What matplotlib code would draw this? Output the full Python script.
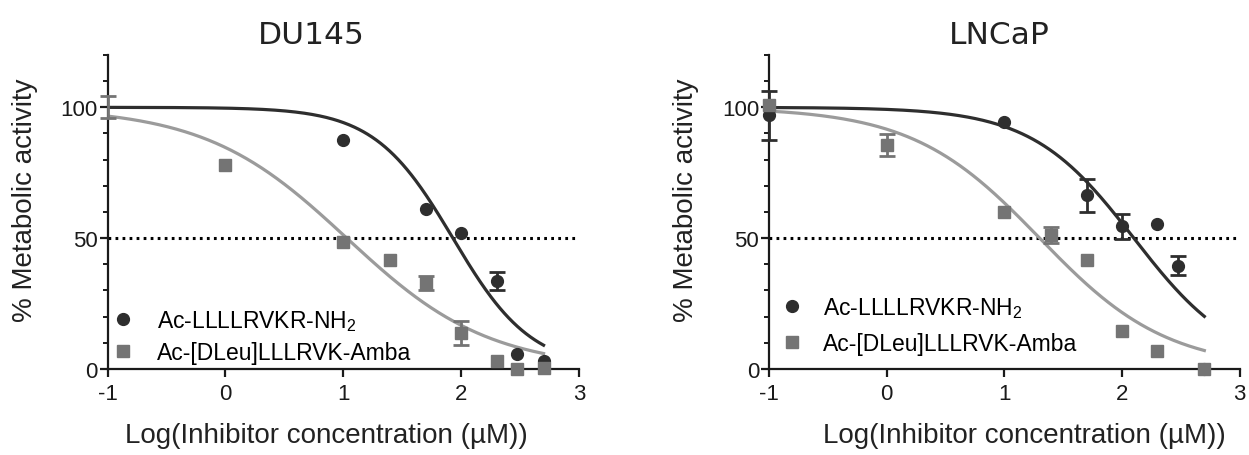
import numpy as np
import matplotlib
matplotlib.use("Agg")
import matplotlib.pyplot as plt
from matplotlib.lines import Line2D
from matplotlib.ticker import MultipleLocator

plt.rcParams['font.family'] = ['Liberation Sans', 'DejaVu Sans']
plt.rcParams['mathtext.fontset'] = 'custom'
plt.rcParams['mathtext.rm'] = 'Liberation Sans'
plt.rcParams['mathtext.default'] = 'regular'

# ---------------- data ----------------
titles = ["DU145", "LNCaP"]
series_names = ["Ac-LLLLRVKR-NH$_2$", "Ac-[DLeu]LLLRVK-Amba"]
x_label = "Log(Inhibitor concentration (\u00b5M))"
y_label = "% Metabolic activity"
x_ticks = [-1, 0, 1, 2, 3]
y_ticks = [0, 50, 100]

# DU145 - dark circles
du_dark_x = [1.0, 1.699, 2.0, 2.301, 2.477, 2.699]
du_dark_y = [87.6, 61.0, 52.1, 33.6, 5.9, 2.9]
du_dark_err = [0, 0, 0, 3.3, 0, 0]
du_dark_shown = [True, True, True, True, True, True]
# DU145 - grey squares
du_gray_x = [-1.0, 0.0, 1.0, 1.398, 1.699, 2.0, 2.301, 2.477, 2.699]
du_gray_y = [100.1, 78.0, 48.5, 41.6, 32.9, 13.8, 2.9, 0.0, 0.5]
du_gray_err = [4.2, 0, 0, 0, 2.8, 4.7, 0, 0, 0]
du_gray_shown = [False, True, True, True, True, True, True, True, True]

# LNCaP - dark circles
ln_dark_x = [-1.0, 1.0, 1.699, 2.0, 2.301, 2.477, 2.699]
ln_dark_y = [96.9, 94.4, 66.4, 54.5, 55.3, 39.5, 0.0]
ln_dark_err = [9.5, 0, 6.4, 4.8, 0, 3.7, 0]
ln_dark_shown = [True] * 7
# LNCaP - grey squares
ln_gray_x = [-1.0, 0.0, 1.0, 1.398, 1.699, 2.0, 2.301, 2.699]
ln_gray_y = [100.8, 85.6, 60.0, 51.3, 41.8, 14.7, 6.8, 0.0]
ln_gray_err = [0, 4.2, 0, 3.0, 0, 0, 0, 0]
ln_gray_shown = [True] * 8

# fitted dose-response curves (logIC50, hill slope, top, bottom), x range
du_dark_fit = [1.93, 1.3, 100.0, 0.0]
du_gray_fit = [1.03, 0.72, 100.0, 0.0]
ln_dark_fit = [2.10, 1.0, 100.0, 0.0]
ln_gray_fit = [1.30, 0.8, 100.0, 0.0]
fit_range = [-1.0, 2.699]
half_line = 50

# ---------------- style ----------------
DARK = '#2e2e2e'
GRAY_M = '#747474'
GRAY_L = '#9b9b9b'


def curve(p, x):
    c, h, top, bot = p
    return bot + (top - bot) / (1 + 10 ** ((x - c) * h))


fig = plt.figure(figsize=(12.49, 4.56), dpi=100)
ax1 = fig.add_axes([0.0861, 0.1886, 0.3775, 0.6886])
ax2 = fig.add_axes([0.6157, 0.1886, 0.3769, 0.6886])

panels = [
    (ax1, (du_dark_x, du_dark_y, du_dark_err, du_dark_shown, du_dark_fit),
     (du_gray_x, du_gray_y, du_gray_err, du_gray_shown, du_gray_fit),
     dict(bbox=(0.008, 0.017), spacing=0.32, tpad=1.0)),
    (ax2, (ln_dark_x, ln_dark_y, ln_dark_err, ln_dark_shown, ln_dark_fit),
     (ln_gray_x, ln_gray_y, ln_gray_err, ln_gray_shown, ln_gray_fit),
     dict(bbox=(0.025, 0.046), spacing=0.5, tpad=0.85)),
]

xx = np.linspace(fit_range[0], fit_range[1], 400)
for ax, dark, gray, lg in panels:
    ax.set_xlim(-1, 3)
    ax.set_ylim(0, 120)
    ax.axhline(half_line, color='black', lw=2.2, ls=(0, (0.9, 1.4)), zorder=1)
    # curves
    ax.plot(xx, curve(gray[4], xx), color=GRAY_L, lw=2.3, zorder=2)
    ax.plot(xx, curve(dark[4], xx), color=DARK, lw=2.3, zorder=2)
    for (sx, sy, se, shown, _), col, mk, ms, z in [
        (dark, DARK, 'o', 8.5, 4), (gray, GRAY_M, 's', 8, 5)]:
        sx = np.array(sx); sy = np.array(sy); se = np.array(se)
        shown = np.array(shown)
        has = se > 0
        if has.any():
            ax.errorbar(sx[has], sy[has], yerr=se[has], fmt='none', ecolor=col,
                        elinewidth=2, capsize=5.5, capthick=2, zorder=z,
                        clip_on=False)
        ax.plot(sx[shown], sy[shown], ls='none', marker=mk, ms=ms, color=col,
                mec=col, zorder=z, clip_on=False)

    handles = [Line2D([], [], ls='none', marker='o', ms=8.5, color=DARK),
               Line2D([], [], ls='none', marker='s', ms=8, color=GRAY_M)]
    ax.legend(handles, series_names, loc='lower left', bbox_to_anchor=lg['bbox'],
              frameon=False, fontsize=16.5, handlelength=1.0,
              handletextpad=lg['tpad'], labelspacing=lg['spacing'],
              borderpad=0, borderaxespad=0)

    for s in ['top', 'right']:
        ax.spines[s].set_visible(False)
    for s in ['left', 'bottom']:
        ax.spines[s].set_linewidth(1.6)
        ax.spines[s].set_color('#1a1a1a')
    ax.set_xticks(x_ticks)
    ax.set_xticklabels([str(t) for t in x_ticks])
    ax.set_yticks(y_ticks)
    ax.yaxis.set_minor_locator(MultipleLocator(10))
    ax.tick_params(axis='both', which='major', length=6, width=1.6,
                   labelsize=16, color='#1a1a1a', labelcolor='#1a1a1a')
    ax.tick_params(axis='y', which='major', pad=1)
    ax.tick_params(axis='x', which='major', pad=4)
    ax.tick_params(axis='y', which='minor', length=3.5, width=1.4, color='#1a1a1a')
    ax.patch.set_visible(False)

# titles and axis labels
for cx, t in zip([311, 999], titles):
    fig.text(cx / 1249, 0.9035, t, ha='center', va='baseline', fontsize=22.5,
             family=['DejaVu Sans'], color='#222222')
for cx in [326, 1024]:
    fig.text(cx / 1249, 0.028, x_label, ha='center', va='baseline', fontsize=20,
             color='#222222')
for cx in [25, 686]:
    fig.text(cx / 1249, 0.561, y_label, ha='center', va='center', rotation=90,
             fontsize=20, color='#222222')

fig.savefig('out.png', dpi=100)
